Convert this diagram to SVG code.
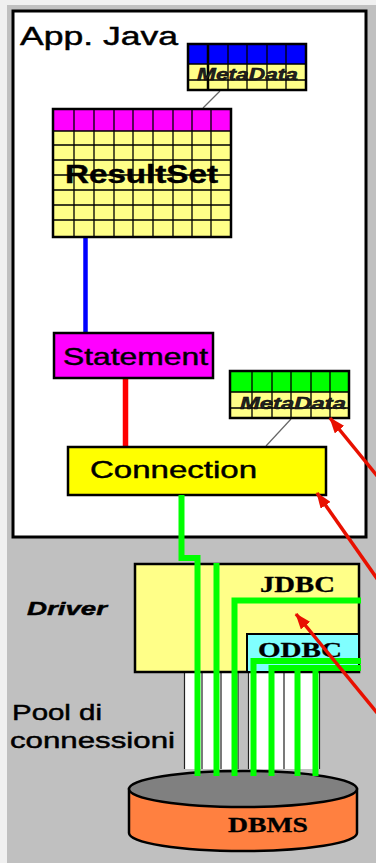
<svg xmlns="http://www.w3.org/2000/svg" width="376" height="863" viewBox="0 0 376 863">
<defs>
<style>
.sans{font-family:"Liberation Sans",Arial,sans-serif;fill:#000;stroke:#000;stroke-width:0.45}
.serif{font-family:"Liberation Serif","Times New Roman",serif;font-weight:bold;fill:#000;stroke:#000;stroke-width:0.3}
.meta{font-family:"Liberation Sans",Arial,sans-serif;font-style:italic;font-weight:bold;fill:#222;stroke:#000;stroke-width:0.4}
.box{stroke:#000;stroke-width:2.5}
.grid{fill:none;stroke:#000;stroke-width:1.3}
.green{fill:none;stroke:#00ff00;stroke-width:6;stroke-linejoin:miter}
.red{stroke:#e81000;stroke-width:3.5;fill:none}
.thin{stroke:#666;stroke-width:1.2;fill:none}
</style>
<marker id="ah" markerUnits="userSpaceOnUse" markerWidth="16" markerHeight="12" refX="15" refY="6" orient="auto">
<path d="M0,0 L16,6 L0,12 z" fill="#e81000"/>
</marker>
</defs>
<rect x="0" y="0" width="376" height="863" fill="#f0f0f0"/>
<rect x="7" y="5" width="369" height="858" fill="#c0c0c0"/>

<g id="app-java">
<rect x="13" y="11" width="353" height="526" fill="#ffffff" stroke="#000" stroke-width="3"/>
<text class="sans" x="20" y="45" font-size="25" textLength="158" lengthAdjust="spacingAndGlyphs">App. Java</text>
</g>

<g id="connectors">
<path class="thin" d="M220,91 L203,108"/>
<path class="thin" d="M291,419 L266,446"/>
<line x1="85.5" y1="237" x2="85.5" y2="333" stroke="#0000ff" stroke-width="4.5"/>
<line x1="125.5" y1="378" x2="125.5" y2="447" stroke="#ff0000" stroke-width="5.5"/>
</g>

<g id="metadata-rs">
<rect x="188" y="44" width="118" height="20" fill="#0000ff"/>
<rect x="188" y="64" width="118" height="26" fill="#ffff88"/>
<path class="grid" d="M188,64 H306 M188,80 H306 M228,44 V90 M247,44 V90 M267,44 V90 M286,44 V90"/>
<line x1="208" y1="44" x2="208" y2="90" stroke="#000" stroke-width="2.5"/>
<rect x="188" y="44" width="118" height="46" fill="none" class="box" stroke-width="2"/>
<text class="meta" x="197" y="80" font-size="16" textLength="101" lengthAdjust="spacingAndGlyphs">MetaData</text>
</g>

<g id="resultset">
<rect x="53" y="109" width="178" height="22" fill="#ff00ff"/>
<rect x="53" y="131" width="178" height="106" fill="#ffff88"/>
<path class="grid" d="M53,131 H231 M53,145 H231 M53,160 H231 M53,175 H231 M53,190 H231 M53,205 H231 M53,220 H231 M74,109 V237 M94,109 V237 M114,109 V237 M133,109 V237 M153,109 V237 M173,109 V237 M192,109 V237 M211,109 V237"/>
<rect x="53" y="109" width="178" height="128" fill="none" class="box"/>
<text class="sans" x="65" y="183" font-size="25" font-weight="bold" textLength="153" lengthAdjust="spacingAndGlyphs">ResultSet</text>
</g>

<g id="statement">
<rect x="54" y="333" width="159" height="45" fill="#ff00ff" class="box"/>
<text class="sans" x="63" y="365" font-size="24" textLength="145" lengthAdjust="spacingAndGlyphs">Statement</text>
</g>

<g id="metadata-conn">
<rect x="230" y="371" width="119" height="21" fill="#00ff00"/>
<rect x="230" y="392" width="119" height="26" fill="#ffff88"/>
<path class="grid" d="M230,392 H349 M230,408 H349 M252,371 V418 M272,371 V418 M291,371 V418 M311,371 V418 M330,371 V418"/>
<rect x="230" y="371" width="119" height="47" fill="none" class="box" stroke-width="2"/>
<text class="meta" x="240" y="409" font-size="16" textLength="106" lengthAdjust="spacingAndGlyphs">MetaData</text>
</g>

<g id="connection">
<rect x="68" y="447" width="258" height="48" fill="#ffff00" class="box"/>
<text class="sans" x="90" y="478" font-size="24" textLength="167" lengthAdjust="spacingAndGlyphs">Connection</text>
</g>

<g id="dbms">
<path d="M129,789 V833 A114,18 0 0 0 357,833 V789 Z" fill="#ff8040" stroke="#000" stroke-width="2.5"/>
<ellipse cx="243" cy="789" rx="114" ry="18" fill="#808080" stroke="#000" stroke-width="2.5"/>
<text class="serif" x="228" y="832" font-size="22" textLength="80" lengthAdjust="spacingAndGlyphs">DBMS</text>
</g>

<g id="pool">
<rect x="184" y="672" width="54" height="97" fill="#ffffff"/>
<rect x="248" y="672" width="72" height="97" fill="#ffffff"/>
<path d="M184.5,672 V769 M202,672 V769 M221,672 V769 M238,672 V769 M248.5,672 V769 M284,672 V769 M319.5,672 V769" stroke="#222" stroke-width="1.2" fill="none"/>
<text class="sans" x="12" y="720" font-size="22" textLength="90" lengthAdjust="spacingAndGlyphs" stroke-width="0.2">Pool di</text>
<text class="sans" x="10" y="748" font-size="22" textLength="165" lengthAdjust="spacingAndGlyphs" stroke-width="0.2">connessioni</text>
</g>

<g id="driver">
<rect x="135" y="564" width="224" height="108" fill="#ffff88" class="box"/>
<text class="serif" x="260" y="592" font-size="24" textLength="75" lengthAdjust="spacingAndGlyphs">JDBC</text>
<rect x="247" y="634" width="112" height="38" fill="#80ffff" stroke="#000" stroke-width="2"/>
<text class="serif" x="258" y="657" font-size="21" textLength="84" lengthAdjust="spacingAndGlyphs">ODBC</text>
<text class="sans" x="27" y="615" font-size="19" font-weight="bold" font-style="italic" textLength="80" lengthAdjust="spacingAndGlyphs" stroke-width="0">Driver</text>
</g>

<g id="green-links">
<path class="green" d="M181.5,495 V558 H197.5 V776"/>
<path class="green" d="M216.5,563 V776"/>
<path class="green" d="M234.5,776 V600.5 H361"/>
<path class="green" d="M253.5,776 V661 H361"/>
<path class="green" d="M271.5,776 V668 H361"/>
<path class="green" d="M297.5,668 V776"/>
<path class="green" d="M315.5,668 V776"/>
</g>

<g id="arrows">
<line class="red" x1="378" y1="477" x2="330" y2="418" marker-end="url(#ah)"/>
<line class="red" x1="378" y1="580" x2="317" y2="493" marker-end="url(#ah)"/>
<line class="red" x1="378" y1="714" x2="296" y2="614" marker-end="url(#ah)"/>
</g>
</svg>
